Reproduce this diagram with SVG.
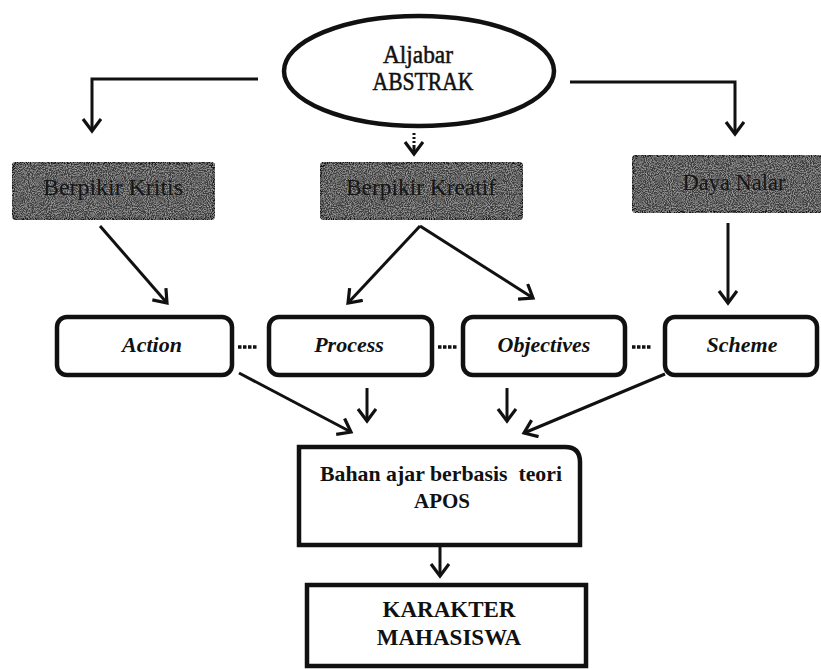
<svg xmlns="http://www.w3.org/2000/svg" width="821" height="669" viewBox="0 0 821 669">
<defs>
<marker id="ah" markerUnits="userSpaceOnUse" markerWidth="20" markerHeight="22" refX="13" refY="10" orient="auto">
<path d="M1,1 L13,10 L1,19" fill="none" stroke="#111" stroke-width="3.2" stroke-linejoin="miter"/>
</marker>
<filter id="grain" x="0" y="0" width="100%" height="100%">
<feTurbulence type="fractalNoise" baseFrequency="0.95" numOctaves="2" seed="3" result="n"/>
<feColorMatrix in="n" type="matrix" values="0 0 0 0 0.6  0 0 0 0 0.6  0 0 0 0 0.6  0 0 0 1.4 -0.55" result="g"/>
<feComposite in="g" in2="SourceGraphic" operator="in" result="gc"/>
<feMerge><feMergeNode in="SourceGraphic"/><feMergeNode in="gc"/></feMerge>
</filter>
</defs>
<style>
.ln{fill:none;stroke:#111;stroke-width:3}
.dk{fill:#3e3e3e;stroke:#151515;stroke-width:4.5}
.wb{fill:#fff;stroke:#111;stroke-width:4.5}
.tdk{font-family:"Liberation Serif","Times New Roman",serif;font-size:23px;fill:#161616;text-anchor:middle}
.ti{font-family:"Liberation Serif","Times New Roman",serif;font-size:22px;font-style:italic;font-weight:bold;fill:#111;text-anchor:middle}
.tb{font-family:"Liberation Serif","Times New Roman",serif;font-weight:bold;fill:#111;text-anchor:middle}
.tr{font-family:"Liberation Serif","Times New Roman",serif;font-size:25px;fill:#111;stroke:#111;stroke-width:0.5;text-anchor:middle}
.dash{fill:none;stroke:#111;stroke-width:3.5;stroke-dasharray:3.5 1.5}
</style>
<rect width="821" height="669" fill="#fff"/>

<g id="connectors">
<polyline class="ln" points="258,79 92,79 92,131" marker-end="url(#ah)"/>
<polyline class="ln" points="570,82 735,82 735,134" marker-end="url(#ah)"/>
<line class="ln" x1="414" y1="133" x2="414" y2="145" stroke-dasharray="2 2"/>
<line class="ln" x1="414" y1="145" x2="414" y2="154" marker-end="url(#ah)"/>
<line class="ln" x1="100" y1="226" x2="167" y2="303" marker-end="url(#ah)"/>
<line class="ln" x1="420" y1="226" x2="348" y2="303" marker-end="url(#ah)"/>
<line class="ln" x1="420" y1="226" x2="533" y2="298" marker-end="url(#ah)"/>
<line class="ln" x1="728" y1="223" x2="728" y2="303" marker-end="url(#ah)"/>
<line class="dash" x1="238" y1="347" x2="257" y2="347"/>
<line class="dash" x1="438" y1="347" x2="457" y2="347"/>
<line class="dash" x1="632" y1="347" x2="652" y2="347"/>
<line class="ln" x1="239" y1="373" x2="351" y2="432" marker-end="url(#ah)"/>
<line class="ln" x1="367" y1="388" x2="367" y2="421" marker-end="url(#ah)"/>
<line class="ln" x1="507" y1="388" x2="507" y2="421" marker-end="url(#ah)"/>
<line class="ln" x1="665" y1="374" x2="524" y2="433" marker-end="url(#ah)"/>
<line class="ln" x1="440" y1="546" x2="440" y2="576" marker-end="url(#ah)"/>
</g>

<g id="aljabar">
<ellipse cx="419" cy="71" rx="135" ry="55" fill="#fff" stroke="#111" stroke-width="4.5"/>
<text class="tr" x="418" y="63" textLength="70" lengthAdjust="spacingAndGlyphs">Aljabar</text>
<text class="tr" x="423" y="90" textLength="101" lengthAdjust="spacingAndGlyphs">ABSTRAK</text>
</g>

<g id="kritis">
<rect class="dk" x="12" y="162" width="203" height="58" rx="9" filter="url(#grain)"/>
<text class="tdk" x="113" y="195" textLength="140" lengthAdjust="spacingAndGlyphs">Berpikir Kritis</text>
</g>
<g id="kreatif">
<rect class="dk" x="320" y="162" width="203" height="58" rx="9" filter="url(#grain)"/>
<text class="tdk" x="421" y="195" textLength="150" lengthAdjust="spacingAndGlyphs">Berpikir Kreatif</text>
</g>
<g id="nalar">
<rect class="dk" x="632" y="155" width="200" height="58" rx="9" filter="url(#grain)"/>
<text class="tdk" x="734" y="190" textLength="103" lengthAdjust="spacingAndGlyphs">Daya Nalar</text>
</g>

<g id="action">
<rect class="wb" x="57" y="317" width="175" height="58" rx="10"/>
<text class="ti" x="152" y="352">Action</text>
</g>
<g id="process">
<rect class="wb" x="269" y="317" width="163" height="58" rx="10"/>
<text class="ti" x="349" y="352">Process</text>
</g>
<g id="objectives">
<rect class="wb" x="463" y="317" width="162" height="58" rx="10"/>
<text class="ti" x="544" y="352">Objectives</text>
</g>
<g id="scheme">
<rect class="wb" x="665" y="317" width="152" height="58" rx="10"/>
<text class="ti" x="742" y="352">Scheme</text>
</g>

<g id="bahan">
<path class="wb" d="M299,447 H565 Q580,447 580,462 V545 H299 Z"/>
<text class="tb" x="441" y="481" font-size="21" textLength="242" lengthAdjust="spacingAndGlyphs" style="white-space:pre">Bahan ajar berbasis  teori</text>
<text class="tb" x="442" y="508" font-size="21">APOS</text>
</g>

<g id="karakter">
<rect class="wb" x="307" y="585" width="279" height="81"/>
<text class="tb" x="449" y="617" font-size="23">KARAKTER</text>
<text class="tb" x="449" y="645" font-size="23">MAHASISWA</text>
</g>
</svg>
